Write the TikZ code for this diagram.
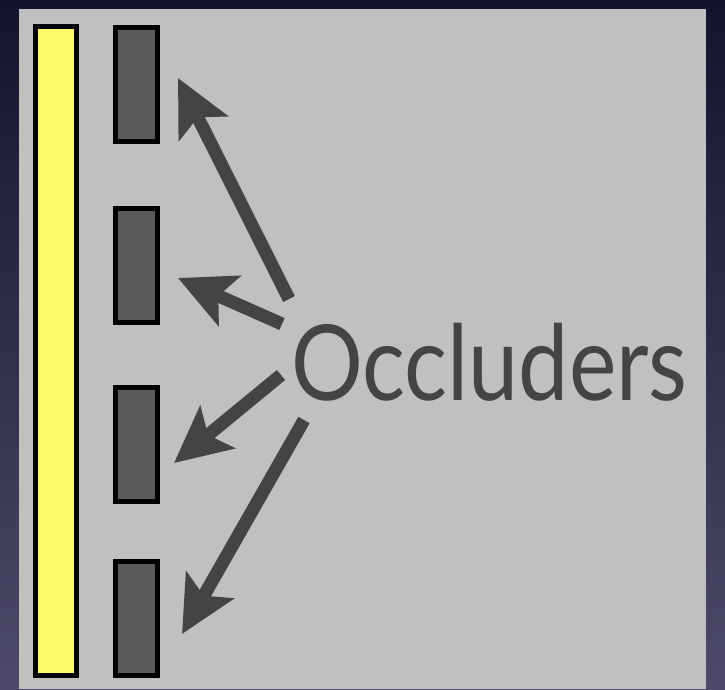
\documentclass[tikz,border=0pt]{standalone}
\usepackage{fontspec}
\newfontfamily\occfont[FakeStretch=0.855]{Lato}
\usetikzlibrary{positioning,arrows.meta}
\definecolor{ONavy}{HTML}{12142E}
\definecolor{OSlate}{HTML}{4C4A68}
\definecolor{OPanel}{HTML}{C0C0C0}
\definecolor{OYellow}{HTML}{FFFA6A}
\definecolor{OBar}{HTML}{5A5A5A}
\definecolor{OInk}{HTML}{444444}

\begin{document}
\begin{tikzpicture}[x=1pt, y=-1pt,
  occbar/.style={draw=black, line width=5pt, fill=OBar, inner sep=0pt,
    minimum width=42pt, minimum height=114pt},
  occarrow/.style={draw=OInk, line width=13pt,
    -{Stealth[length=56pt, width=54pt, inset=12pt]}}]
% backdrop and panel
\shade[top color=ONavy, bottom color=OSlate] (0,0) rectangle (725,689);
\useasboundingbox (0,0) rectangle (725,689);
\fill[OPanel] (19,9) rectangle (706,689);
% light strip
\node (light) [draw=black, line width=5pt, fill=OYellow, inner sep=0pt,
  minimum width=41pt, minimum height=649pt] at (56,351) {};
% occluders
\foreach \i/\y in {1/84, 2/265.5, 3/444.5, 4/618.5}{
  \node (bar\i) [occbar] at (136.5,\y) {};
}
% label
\node (occ) [font=\occfont\fontsize{105}{105}\selectfont, text=OInk,
  anchor=base west, inner sep=0pt] at (291,400) {Occluders};
% arrow ends
\coordinate (t1) at (289,299);
\coordinate (t2) at (282,324);
\coordinate (t3) at (281,375);
\coordinate (t4) at (304,420);
\coordinate (h1) at (178,78);
\coordinate (h2) at (178,278);
\coordinate (h3) at (174,463);
\coordinate (h4) at (182,634);
\foreach \i in {1,...,4}{
  \draw[occarrow] (t\i) -- (h\i);
}
\end{tikzpicture}
\end{document}
